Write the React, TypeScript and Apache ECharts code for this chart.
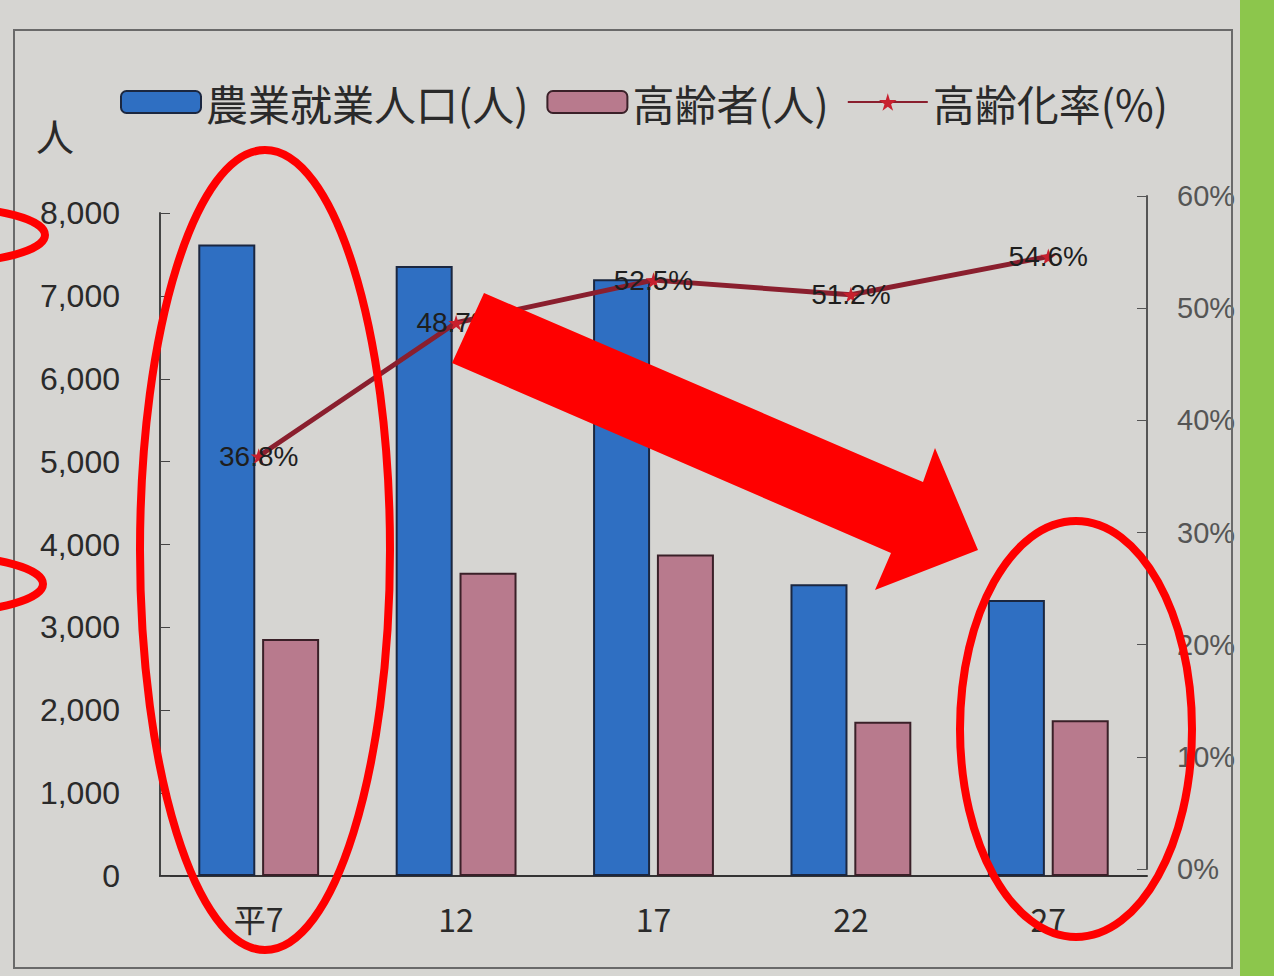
import React, { useEffect, useRef } from "react";
import * as echarts from "echarts";

const categories = ["平7", "12", "17", "22", "27"];
const farmWorkers = [7620, 7360, 7200, 3520, 3330];
const elderly = [2860, 3660, 3880, 1860, 1880];
const agingRate = [36.8, 48.7, 52.5, 51.2, 54.6];
const leftTicks = { min: 0, max: 8000, interval: 1000 };
const rightTicks = { min: 0, max: 60, interval: 10 };

const FONT = "'Noto Sans CJK JP', 'Noto Sans', sans-serif";
const NUM_FONT = "'Liberation Sans', 'DejaVu Sans', sans-serif";
const STAR =
  "path://M50,0 L61,35 L98,35 L68,57 L79,91 L50,70 L21,91 L32,57 L2,35 L39,35 Z";

export default function App() {
  const ref = useRef<HTMLDivElement>(null);
  useEffect(() => {
    if (!ref.current) return;
    const chart = echarts.init(ref.current, null, { renderer: "svg" });
    chart.setOption({
      animation: false,
      backgroundColor: "#d6d5d2",
      textStyle: { fontFamily: FONT },
      legend: {
        left: 115,
        top: 76,
        itemWidth: 80,
        itemHeight: 22,
        itemGap: 18,
        textStyle: { fontSize: 42, color: "#2a2a2a", fontFamily: FONT },
        data: ["農業就業人口(人)", "高齢者(人)", "高齢化率(%)"],
      },
      grid: [
        { left: 160, right: 127, top: 213, bottom: 100 },
        { left: 160, right: 127, top: 196, bottom: 107 },
      ],
      xAxis: [
        {
          type: "category",
          gridIndex: 0,
          data: categories,
          axisLine: { lineStyle: { color: "#333", width: 2 } },
          axisTick: { show: false },
          axisLabel: { fontSize: 32, color: "#2a2a2a", margin: 26, fontFamily: FONT },
        },
        {
          type: "category",
          gridIndex: 1,
          data: categories,
          show: false,
        },
      ],
      yAxis: [
        {
          type: "value",
          gridIndex: 0,
          ...leftTicks,
          splitLine: { show: false },
          axisLine: { show: true, lineStyle: { color: "#444", width: 2 } },
          axisTick: { show: true, inside: true, length: 10, lineStyle: { color: "#444" } },
          axisLabel: {
            fontSize: 32,
            color: "#2a2a2a",
            margin: 40,
            fontFamily: NUM_FONT,
            formatter: (v: number) => v.toLocaleString("en-US"),
          },
        },
        {
          type: "value",
          gridIndex: 1,
          position: "right",
          ...rightTicks,
          splitLine: { show: false },
          axisLine: { show: true, lineStyle: { color: "#555", width: 2 } },
          axisTick: { show: true, inside: true, length: 10, lineStyle: { color: "#555" } },
          axisLabel: {
            fontSize: 29,
            color: "#555",
            margin: 30,
            fontFamily: NUM_FONT,
            formatter: "{value}%",
          },
        },
      ],
      series: [
        {
          name: "農業就業人口(人)",
          type: "bar",
          xAxisIndex: 0,
          yAxisIndex: 0,
          data: farmWorkers,
          barWidth: 57,
          barGap: "12%",
          itemStyle: { color: "#2f6fc2", borderColor: "#1b2740", borderWidth: 2 },
        },
        {
          name: "高齢者(人)",
          type: "bar",
          xAxisIndex: 0,
          yAxisIndex: 0,
          data: elderly,
          barWidth: 57,
          itemStyle: { color: "#b87a8d", borderColor: "#3a2028", borderWidth: 2 },
        },
        {
          name: "高齢化率(%)",
          type: "line",
          xAxisIndex: 1,
          yAxisIndex: 1,
          data: agingRate,
          symbol: STAR,
          symbolSize: 16,
          lineStyle: { color: "#8a1f2e", width: 5 },
          itemStyle: { color: "#c8202e" },
          label: {
            show: true,
            position: "inside",
            formatter: "{c}%",
            fontSize: 28,
            color: "#1e1e1e",
            fontFamily: NUM_FONT,
          },
          z: 5,
        },
      ],
      graphic: [
        {
          type: "rect",
          shape: { x: 1240, y: 0, width: 34, height: 976 },
          style: { fill: "#8cc64c" },
          z: 1,
        },
        {
          type: "rect",
          shape: { x: 14, y: 30, width: 1218, height: 938 },
          style: { fill: "none", stroke: "#6a6a6a", lineWidth: 2 },
          z: 1,
        },
        {
          type: "text",
          left: 36,
          top: 115,
          style: { text: "人", fontSize: 38, fill: "#2a2a2a", fontFamily: FONT },
          z: 10,
        },
        {
          type: "ellipse",
          shape: { cx: 265, cy: 550, rx: 125, ry: 400 },
          style: { fill: "none", stroke: "#ff0000", lineWidth: 8 },
          z: 20,
        },
        {
          type: "ellipse",
          shape: { cx: 1076, cy: 729, rx: 116, ry: 208 },
          style: { fill: "none", stroke: "#ff0000", lineWidth: 8 },
          z: 20,
        },
        {
          type: "ellipse",
          shape: { cx: -60, cy: 235, rx: 105, ry: 28 },
          style: { fill: "none", stroke: "#ff0000", lineWidth: 8 },
          z: 20,
        },
        {
          type: "ellipse",
          shape: { cx: -60, cy: 584, rx: 103, ry: 28 },
          style: { fill: "none", stroke: "#ff0000", lineWidth: 8 },
          z: 20,
        },
        {
          type: "polygon",
          shape: {
            points: [
              [484, 293],
              [923, 482],
              [935, 448],
              [978, 550],
              [875, 590],
              [891, 553],
              [452, 363],
            ],
          },
          style: { fill: "#ff0000" },
          z: 20,
        },
      ],
    });
    return () => chart.dispose();
  }, []);
  return (
    <div
      ref={ref}
      style={{ position: "fixed", left: 0, top: 0, width: 1274, height: 976 }}
    />
  );
}
